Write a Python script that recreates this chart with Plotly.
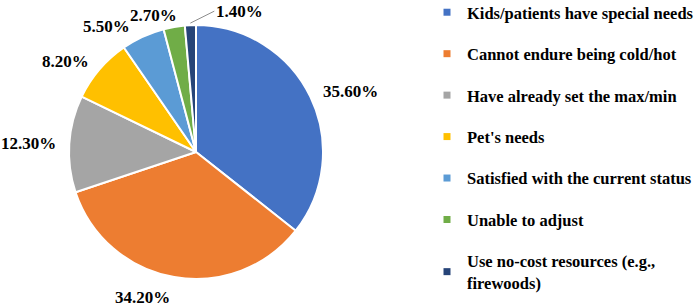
import math
import plotly.graph_objects as go

categories = [
    "Kids/patients have special needs",
    "Cannot endure being cold/hot",
    "Have already set the max/min",
    "Pet's needs",
    "Satisfied with the current status",
    "Unable to adjust",
    "Use no-cost resources (e.g.,<br>firewoods)",
]
values = [35.6, 34.2, 12.3, 8.2, 5.5, 2.7, 1.4]
colors = ["#4472C4", "#ED7D31", "#A5A5A5", "#FFC000", "#5B9BD5", "#70AD47", "#264478"]

FONT = "Liberation Serif"
W, H = 699, 304
CX, CY, R = 196, 152, 127  # pie centre / radius in pixels (from top-left)
LBL_SIZE = 17

fig = go.Figure()
fig.add_trace(go.Pie(
    labels=categories,
    values=values,
    sort=False,
    direction="clockwise",
    rotation=0,
    marker=dict(colors=colors, line=dict(color="white", width=2)),
    textinfo="none",
    showlegend=False,
    domain=dict(x=[(CX - R) / W, (CX + R) / W], y=[(H - CY - R) / H, (H - CY + R) / H]),
    hoverinfo="label+percent",
))

# ---- data labels, positioned from each slice's mid-angle ----
total = sum(values)
cum = 0.0
labels = []
for v in values:
    mid = (cum + v / 2) / total * 2 * math.pi
    cum += v
    s, c = math.sin(mid), math.cos(mid)
    txt = f"{v:.2f}%"
    w = 0.53 * LBL_SIZE * len(txt)
    h = 1.1 * LBL_SIZE
    lab = dict(v=v, s=s, c=c, txt=txt, w=w, h=h, leader=v < 2, shift=0.0)
    if not lab["leader"]:
        rr = R * 1.09
        px, py = CX + rr * s, CY - rr * c
        lab["xa"] = "left" if s > 0.05 else ("right" if s < -0.05 else "center")
        lab["ya"] = "top" if c < -0.9 else "middle"
        x0 = px if lab["xa"] == "left" else (px - w if lab["xa"] == "right" else px - w / 2)
        y0 = py if lab["ya"] == "top" else py - h / 2
        lab.update(px=px, py=py, box=[x0, x0 + w, y0, y0 + h])
    labels.append(lab)

# resolve overlaps between neighbouring labels by spreading them apart
normal = [l for l in labels if not l["leader"]]
for a, b in zip(normal, normal[1:]):
    ax0, ax1, ay0, ay1 = a["box"]
    bx0, bx1, by0, by1 = b["box"]
    if ax0 < bx1 and bx0 < ax1 and ay0 < by1 and by0 < ay1:
        if a["s"] < 0 and b["s"] < 0:  # left side: b is nearer the top
            ov = ax1 - bx0 + 2
            a["shift"] -= ov / 2
            b["shift"] += ov / 2

annotations = []
font = dict(family=FONT, size=LBL_SIZE, color="black", weight="bold")
for lab in labels:
    if lab["leader"]:
        rr = R + 2
        annotations.append(dict(
            x=(CX + rr * lab["s"]) / W, y=(H - CY + rr * lab["c"]) / H,
            xref="paper", yref="paper", text=lab["txt"], font=font,
            showarrow=True, arrowhead=0, arrowwidth=1, arrowcolor="#8c8c8c",
            ax=24, ay=-12, xanchor="left", yanchor="middle",
        ))
    else:
        annotations.append(dict(
            x=lab["px"] / W, y=(H - lab["py"]) / H, xref="paper", yref="paper",
            text=lab["txt"], font=font, showarrow=False,
            xanchor=lab["xa"], yanchor=lab["ya"], xshift=lab["shift"],
            yshift=2 if lab["ya"] == "top" else 0,
        ))

# ---- legend (small square markers) ----
for i, (cat, col) in enumerate(zip(categories, colors)):
    fig.add_trace(go.Scatter(
        x=[None], y=[None], mode="markers", name=cat,
        marker=dict(symbol="square", size=7, color=col),
        legendgroup=f"g{i}", showlegend=True,
    ))

fig.update_layout(
    width=W, height=H,
    margin=dict(l=0, r=0, t=0, b=0, autoexpand=False),
    paper_bgcolor="white", plot_bgcolor="white",
    xaxis=dict(visible=False), yaxis=dict(visible=False),
    annotations=annotations,
    legend=dict(
        x=427 / W, xanchor="left", y=0.5 + 5 / H, yanchor="middle",
        font=dict(family=FONT, size=16.5, color="black", weight="bold"),
        tracegroupgap=17, bgcolor="rgba(0,0,0,0)",
    ),
)

fig.write_html("out.html", config={"displayModeBar": False},
               post_script="document.body.style.margin='0';")
